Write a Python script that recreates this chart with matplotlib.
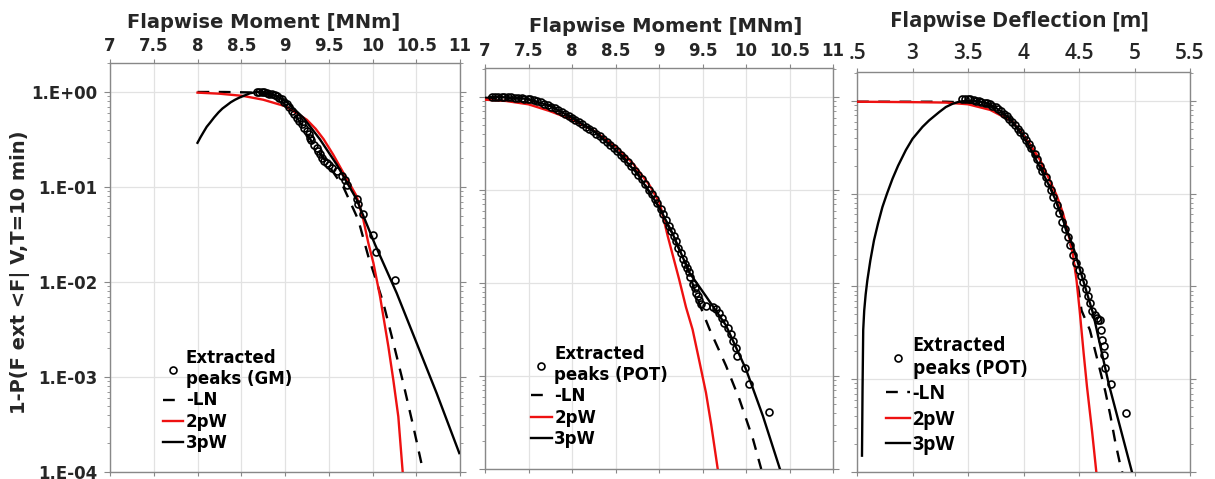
import matplotlib
matplotlib.use("Agg")
import matplotlib.pyplot as plt
from matplotlib.ticker import LogLocator, NullFormatter, FixedLocator

# ---------------- Panel 1: Flapwise Moment, GM peaks ----------------
gm_peaks_x = [8.676, 8.70, 8.733, 8.76, 8.790, 8.82, 8.848, 8.88, 8.905, 8.93, 8.962, 8.99,
              9.019, 9.05, 9.076, 9.10, 9.133, 9.16, 9.19, 9.22, 9.248, 9.27, 9.286, 9.30,
              9.331, 9.36, 9.381, 9.40, 9.427, 9.45, 9.476, 9.50, 9.533, 9.59, 9.648, 9.686,
              9.712, 9.819, 9.838, 9.895, 10.01, 10.04, 10.257]
gm_peaks_y = [1.0, 1.0, 1.0, 0.99, 0.984, 0.96, 0.945, 0.93, 0.907, 0.87, 0.837, 0.79,
              0.741, 0.69, 0.63, 0.58, 0.536, 0.50, 0.456, 0.42, 0.388, 0.36, 0.33, 0.31,
              0.28, 0.26, 0.238, 0.22, 0.203, 0.19, 0.18, 0.17, 0.159, 0.147, 0.13, 0.118,
              0.106, 0.0742, 0.0656, 0.0526, 0.0312, 0.0206, 0.0104]

gm_ln_x = [8.0, 8.3, 8.6, 8.8, 8.95, 9.1, 9.2, 9.286, 9.38, 9.476, 9.57, 9.667, 9.75,
           9.838, 9.952, 10.04, 10.124, 10.238, 10.352, 10.467, 10.562]
gm_ln_y = [1.0, 1.0, 0.99, 0.94, 0.82, 0.6, 0.44, 0.32, 0.24, 0.18, 0.135, 0.1, 0.068,
           0.045, 0.0186, 0.0105, 0.006, 0.0023, 8.6e-4, 3.0e-4, 1.2e-4]

gm_2pw_x = [8.0, 8.25, 8.52, 8.75, 9.0, 9.13, 9.25, 9.35, 9.44, 9.55, 9.667, 9.819, 9.895,
            9.952, 10.01, 10.048, 10.086, 10.124, 10.181, 10.238, 10.295, 10.345]
gm_2pw_y = [0.985, 0.96, 0.91, 0.83, 0.71, 0.6, 0.51, 0.41, 0.32, 0.22, 0.141, 0.08, 0.0454,
            0.0258, 0.0159, 0.0106, 0.00706, 0.00435, 0.0021, 9.3e-4, 3.83e-4, 1.0e-4]

gm_3pw_x = [8.0, 8.035, 8.07, 8.105, 8.143, 8.19, 8.24, 8.285, 8.333, 8.38, 8.43, 8.475,
            8.524, 8.6, 8.676, 8.75, 8.829, 8.92, 9.019, 9.21, 9.4, 9.59, 9.819, 10.029,
            10.276, 10.505, 10.733, 10.992]
gm_3pw_y = [0.292, 0.335, 0.38, 0.43, 0.475, 0.54, 0.61, 0.67, 0.723, 0.78, 0.83, 0.87,
            0.908, 0.97, 1.0, 0.995, 0.968, 0.89, 0.785, 0.536, 0.317, 0.173, 0.074, 0.0248,
            0.00766, 0.00227, 6.76e-4, 1.58e-4]

# ---------------- Panel 2: Flapwise Moment, POT peaks ----------------
pot_m_peaks_x = [7.08, 7.12, 7.15, 7.19, 7.22, 7.26, 7.30, 7.34, 7.38, 7.42, 7.45, 7.49,
                 7.52, 7.56, 7.6, 7.64, 7.68, 7.72, 7.76, 7.80, 7.84, 7.88, 7.92, 7.96, 8.0,
                 8.04, 8.08, 8.12, 8.16, 8.20, 8.24, 8.28, 8.32, 8.36, 8.40, 8.44, 8.48, 8.52,
                 8.56, 8.60, 8.64, 8.68, 8.72, 8.76, 8.8, 8.84, 8.88, 8.92, 8.95, 8.98, 9.02,
                 9.05, 9.08, 9.11, 9.14, 9.17, 9.2, 9.22, 9.25, 9.28, 9.3, 9.32, 9.34, 9.36,
                 9.39, 9.41, 9.43, 9.445, 9.46, 9.48, 9.54, 9.62, 9.66, 9.69, 9.72, 9.75,
                 9.79, 9.83, 9.85, 9.89, 9.9, 9.99, 10.04, 10.26]
pot_m_peaks_y = [1.0, 1.0, 1.0, 1.0, 1.0, 0.995, 0.99, 0.985, 0.98, 0.97, 0.96, 0.95,
                 0.94, 0.92, 0.9, 0.875, 0.85, 0.82, 0.79, 0.755, 0.72, 0.69, 0.66, 0.625,
                 0.59, 0.565, 0.54, 0.51, 0.48, 0.455, 0.43, 0.405, 0.38, 0.355, 0.33, 0.305,
                 0.28, 0.26, 0.24, 0.22, 0.2, 0.18, 0.16, 0.145, 0.13, 0.115, 0.1, 0.09, 0.08,
                 0.072, 0.063, 0.055, 0.047, 0.041, 0.036, 0.032, 0.028, 0.024, 0.021, 0.018,
                 0.016, 0.0145, 0.013, 0.0115, 0.0098, 0.0088, 0.0078, 0.0072, 0.0065, 0.0059,
                 0.0057, 0.0055, 0.0052, 0.0047, 0.0042, 0.0037, 0.0033, 0.0028, 0.0024,
                 0.002, 0.00166, 0.00123, 8.3e-4, 4.1e-4]

pot_m_ln_x = [7.0, 7.3, 7.5, 7.75, 8.0, 8.25, 8.5, 8.75, 9.0, 9.15, 9.31, 9.46, 9.58, 9.77,
              9.925, 10.08, 10.175]
pot_m_ln_y = [0.98, 0.97, 0.94, 0.8, 0.6, 0.43, 0.28, 0.155, 0.065, 0.034, 0.016, 0.0061,
              0.0032, 0.00129, 5.6e-4, 2.1e-4, 1.0e-4]

pot_m_2pw_x = [6.99, 7.24, 7.5, 7.74, 8.0, 8.24, 8.5, 8.7, 8.89, 9.01, 9.10, 9.232, 9.31,
               9.386, 9.46, 9.54, 9.6, 9.675]
pot_m_2pw_y = [0.936, 0.906, 0.834, 0.708, 0.572, 0.44, 0.296, 0.193, 0.113, 0.072, 0.032,
               0.0109, 0.0055, 0.00316, 0.0015, 6.6e-4, 3.0e-4, 1.0e-4]

pot_m_3pw_x = [7.05, 7.3, 7.5, 7.75, 8.0, 8.25, 8.5, 8.75, 9.0, 9.15, 9.35, 9.54, 9.77,
               10.0, 10.195, 10.39]
pot_m_3pw_y = [1.0, 0.99, 0.95, 0.8, 0.6, 0.43, 0.27, 0.15, 0.066, 0.035, 0.0129, 0.0072,
               0.0035, 0.00118, 3.7e-4, 1.0e-4]

# ---------------- Panel 3: Flapwise Deflection, POT peaks ----------------
pot_d_peaks_x = [3.45, 3.47, 3.5, 3.52, 3.55, 3.57, 3.6, 3.62, 3.65, 3.67, 3.7, 3.72, 3.75,
                 3.77, 3.8, 3.82, 3.85, 3.87, 3.9, 3.92, 3.95, 3.97, 4.0, 4.02, 4.05, 4.07,
                 4.1, 4.12, 4.15, 4.17, 4.2, 4.22, 4.25, 4.27, 4.3, 4.32, 4.35, 4.37, 4.4,
                 4.42, 4.45, 4.47, 4.5, 4.52, 4.54, 4.56, 4.58, 4.60, 4.62, 4.64, 4.66, 4.675,
                 4.686, 4.698, 4.707, 4.722, 4.728, 4.737, 4.791, 4.926]
pot_d_peaks_y = [1.04, 1.05, 1.04, 1.04, 1.02, 1.01, 1.0, 0.98, 0.96, 0.94, 0.92, 0.89, 0.85,
                 0.81, 0.77, 0.73, 0.68, 0.64, 0.59, 0.55, 0.5, 0.46, 0.42, 0.38, 0.34, 0.31,
                 0.27, 0.235, 0.2, 0.175, 0.15, 0.13, 0.11, 0.092, 0.075, 0.062, 0.05, 0.042,
                 0.034, 0.028, 0.022, 0.018, 0.015, 0.013, 0.0112, 0.0095, 0.0078, 0.0066,
                 0.0055, 0.0049, 0.0046, 0.0044, 0.0044, 0.0034, 0.00267, 0.00226, 0.00184,
                 0.00132, 8.9e-4, 4.37e-4]

pot_d_ln_x = [2.5, 3.0, 3.3, 3.5, 3.7, 3.9, 4.05, 4.2, 4.35, 4.45, 4.523, 4.598, 4.686,
              4.737, 4.782, 4.827, 4.878, 4.89]
pot_d_ln_y = [0.98, 0.98, 0.98, 0.96, 0.88, 0.62, 0.36, 0.16, 0.055, 0.022, 0.0055, 0.0034,
              0.0013, 7.4e-4, 4.1e-4, 2.1e-4, 1.1e-4, 1.0e-4]

pot_d_2pw_x = [2.5, 3.0, 3.3, 3.5, 3.7, 3.9, 4.056, 4.15, 4.237, 4.3, 4.357, 4.418, 4.448,
               4.478, 4.506, 4.542, 4.572, 4.617, 4.656]
pot_d_2pw_y = [0.98, 0.97, 0.96, 0.92, 0.8, 0.6, 0.346, 0.23, 0.139, 0.095, 0.061, 0.0314,
               0.021, 0.0116, 0.0055, 0.0019, 8.3e-4, 2.8e-4, 1.0e-4]

pot_d_3pw_x = [2.545, 2.55, 2.556, 2.565, 2.578, 2.593, 2.62, 2.653, 2.69, 2.729, 2.77,
               2.82, 2.87, 2.94, 3.0, 3.09, 3.15, 3.241, 3.3, 3.362, 3.42, 3.483, 3.55,
               3.633, 3.7, 3.784, 3.86, 3.935, 4.01, 4.086, 4.16, 4.237, 4.3, 4.357, 4.448,
               4.538, 4.629, 4.767, 4.872, 4.977]
pot_d_3pw_y = [1.5e-4, 8e-4, 3.4e-3, 5.5e-3, 8.2e-3, 0.0116, 0.019, 0.0314, 0.048, 0.0718,
               0.1, 0.145, 0.2, 0.295, 0.39, 0.525, 0.617, 0.759, 0.859, 0.933, 0.98, 1.0,
               1.0, 0.975, 0.92, 0.793, 0.67, 0.524, 0.39, 0.27, 0.18, 0.118, 0.08, 0.0515,
               0.0265, 0.0116, 0.005, 9e-4, 3.0e-4, 1.0e-4]

x_ticks_moment = [7, 7.5, 8, 8.5, 9, 9.5, 10, 10.5, 11]
x_ticklabels_moment = ["7", "7.5", "8", "8.5", "9", "9.5", "10", "10.5", "11"]
x_ticks_defl = [2.5, 3, 3.5, 4, 4.5, 5, 5.5]
x_ticklabels_defl = [".5", "3", "3.5", "4", "4.5", "5", "5.5"]
y_ticks = [1e0, 1e-1, 1e-2, 1e-3, 1e-4]
y_ticklabels = ["1.E+00", "1.E-01", "1.E-02", "1.E-03", "1.E-04"]

titles = ["Flapwise Moment [MNm]", "Flapwise Moment [MNm]", "Flapwise Deflection [m]"]
peak_labels = ["Extracted\npeaks (GM)", "Extracted\npeaks (POT)", "Extracted\npeaks (POT)"]
ylabel = "1-P(F ext <F| V,T=10 min)"

TXT = "#262626"
W, H = 1215, 479
fig = plt.figure(figsize=(W / 100, H / 100), dpi=100)

def frac_box(l, t, r, b):
    return [l / W, 1 - b / H, (r - l) / W, (b - t) / H]

boxes = [frac_box(110, 63, 460, 472), frac_box(485, 68, 833, 469), frac_box(857, 72, 1190, 472)]
ytops = [2.02, 2.05, 2.05]

panels = [
    (gm_peaks_x, gm_peaks_y, gm_ln_x, gm_ln_y, gm_2pw_x, gm_2pw_y, gm_3pw_x, gm_3pw_y),
    (pot_m_peaks_x, pot_m_peaks_y, pot_m_ln_x, pot_m_ln_y, pot_m_2pw_x, pot_m_2pw_y, pot_m_3pw_x, pot_m_3pw_y),
    (pot_d_peaks_x, pot_d_peaks_y, pot_d_ln_x, pot_d_ln_y, pot_d_2pw_x, pot_d_2pw_y, pot_d_3pw_x, pot_d_3pw_y),
]

fonts = ["DejaVu Sans", "DejaVu Sans", "Open Sans"]
tick_fs = [12, 12, 15]
tick_w = ["bold", "bold", 600]
title_fs = [14, 14, 16]
leg_fs = [12, 12, 14]
leg_ls = [0.2, 0.2, 0.27]
leg_hl = [1.25, 1.25, 1.2]
leg_anchor = [(0.15, 0.30), (0.132, 0.309), (0.088, 0.34)]
title_pos = [(264, 23), (666, 26), (1019, 22)]

for i, box in enumerate(boxes):
    ax = fig.add_axes(box)
    px, py, lx, ly, rx, ry, bx, by = panels[i]
    ax.set_yscale("log")
    ax.plot(px, py, linestyle="none", marker="o", markersize=5, markerfacecolor="none",
            markeredgecolor="black", markeredgewidth=1.2, label=peak_labels[i], zorder=4)
    ax.plot(lx, ly, color="black", linestyle=(0, (5, 4)), linewidth=1.7, label="LN", zorder=3)
    ax.plot(rx, ry, color="#ee1111", linewidth=1.7, label="2pW", zorder=3)
    ax.plot(bx, by, color="black", linewidth=1.7, label="3pW", zorder=3)

    if i < 2:
        ax.set_xlim(7, 11)
        ax.set_xticks(x_ticks_moment)
        ax.set_xticklabels(x_ticklabels_moment)
    else:
        ax.set_xlim(2.5, 5.5)
        ax.set_xticks(x_ticks_defl)
        ax.set_xticklabels(x_ticklabels_defl)
    ax.set_ylim(1e-4, ytops[i])
    ax.yaxis.set_major_locator(FixedLocator(y_ticks))
    ax.yaxis.set_minor_locator(LogLocator(base=10, subs=range(2, 10), numticks=20))
    ax.yaxis.set_minor_formatter(NullFormatter())
    if i == 0:
        ax.set_yticklabels(y_ticklabels)
    else:
        ax.set_yticklabels([])

    ax.grid(True, which="major", color="#e2e2e2", linewidth=0.9)
    ax.set_axisbelow(True)
    for s in ax.spines.values():
        s.set_color("#888888")
        s.set_linewidth(1.0)
    ax.tick_params(axis="x", which="both", top=True, bottom=True, labeltop=True,
                   labelbottom=False, direction="out", length=3, width=0.8, color="#888888",
                   pad=3, labelsize=tick_fs[i], labelcolor=TXT)
    ax.tick_params(axis="y", which="major", left=True, right=True, direction="out", length=4,
                   width=0.8, color="#888888", pad=5, labelsize=12, labelcolor=TXT)
    ax.tick_params(axis="y", which="minor", left=True, right=True, direction="out", length=2,
                   width=0.6, color="#888888")
    for lab in ax.get_xticklabels() + ax.get_yticklabels():
        lab.set_fontweight(tick_w[i])
        lab.set_fontfamily(fonts[i])

    leg = ax.legend(loc="upper left", bbox_to_anchor=leg_anchor[i], frameon=False,
                    borderpad=0, borderaxespad=0, handlelength=leg_hl[i], handletextpad=0.15,
                    labelspacing=leg_ls[i],
                    prop={"family": fonts[i], "weight": "bold", "size": leg_fs[i]})
    texts = leg.get_texts()
    texts[1].set_text("-LN")
    for t in texts:
        t.set_color("black")

    tx, ty = title_pos[i]
    fig.text(tx / W, 1 - ty / H, titles[i], ha="center", va="center", fontsize=title_fs[i],
             fontweight="bold", family=fonts[i], color=TXT)

fig.text(20 / W, 1 - 272 / H, ylabel, rotation=90, ha="center", va="center", fontsize=14,
         fontweight="bold", color=TXT)

fig.savefig("out.png", dpi=100)
